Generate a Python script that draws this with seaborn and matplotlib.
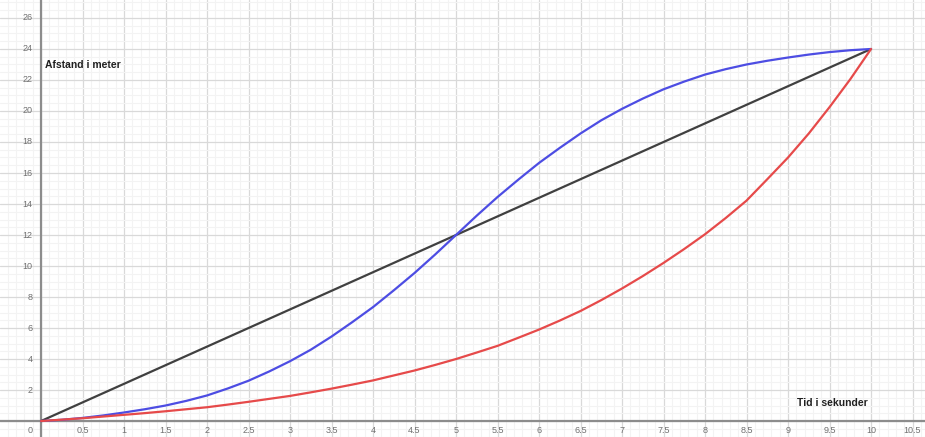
import numpy as np
import pandas as pd
import seaborn as sns
import matplotlib.pyplot as plt
from matplotlib.ticker import MultipleLocator

# tid i sekunder (aflæst hvert kvarte sekund)
t = [0, 0.25, 0.5, 0.75, 1, 1.25, 1.5, 1.75, 2, 2.25, 2.5, 2.75, 3, 3.25,
     3.5, 3.75, 4, 4.25, 4.5, 4.75, 5, 5.25, 5.5, 5.75, 6, 6.25, 6.5, 6.75,
     7, 7.25, 7.5, 7.75, 8, 8.25, 8.5, 8.75, 9, 9.25, 9.5, 9.75, 10]
blaa = [0, 0.08, 0.2, 0.36, 0.55, 0.76, 1.0, 1.3, 1.65, 2.1, 2.6, 3.2,
        3.86, 4.6, 5.45, 6.38, 7.35, 8.43, 9.55, 10.75, 12, 13.25, 14.45,
        15.57, 16.65, 17.62, 18.55, 19.4, 20.14, 20.8, 21.4, 21.9, 22.35,
        22.7, 23.0, 23.24, 23.45, 23.64, 23.8, 23.92, 24]
roed = [0, 0.09, 0.18, 0.29, 0.4, 0.51, 0.63, 0.76, 0.89, 1.06, 1.24, 1.43,
        1.62, 1.85, 2.09, 2.35, 2.62, 2.94, 3.26, 3.62, 4, 4.42, 4.85, 5.37,
        5.9, 6.48, 7.1, 7.8, 8.55, 9.35, 10.2, 11.1, 12.05, 13.1, 14.22, 15.6,
        17.0, 18.55, 20.25, 22.05, 24]
sort_t = [0, 10]
sort_s = [0, 24]

x_ticks = [0.5, 1, 1.5, 2, 2.5, 3, 3.5, 4, 4.5, 5, 5.5, 6, 6.5, 7, 7.5,
           8, 8.5, 9, 9.5, 10, 10.5]
y_ticks = [2, 4, 6, 8, 10, 12, 14, 16, 18, 20, 22, 24, 26]

df = pd.concat([
    pd.DataFrame({"t": sort_t, "s": sort_s, "graf": "sort"}),
    pd.DataFrame({"t": t, "s": blaa, "graf": "blaa"}),
    pd.DataFrame({"t": t, "s": roed, "graf": "roed"}),
])

sns.set_style("white")
plt.rcParams['font.family'] = ['Liberation Sans', 'DejaVu Sans']

fig = plt.figure(figsize=(9.25, 4.37), dpi=100)
ax = fig.add_axes([0, 0, 1, 1])
ax.set_xlim(-0.494, 10.65)
ax.set_ylim(-1.03, 27.16)

# gitter
ax.xaxis.set_major_locator(MultipleLocator(0.5))
ax.xaxis.set_minor_locator(MultipleLocator(0.1))
ax.yaxis.set_major_locator(MultipleLocator(2))
ax.yaxis.set_minor_locator(MultipleLocator(0.5))
ax.grid(which="major", color="#d9d9d9", lw=0.9)
ax.grid(which="minor", color="#f3f3f3", lw=0.8)
ax.set_axisbelow(True)
ax.tick_params(which="both", length=0, labelbottom=False, labelleft=False)
for sp in ax.spines.values():
    sp.set_visible(False)

ax.axhline(0, color="#8c8c8c", lw=1.6, zorder=2)
ax.axvline(0, color="#8c8c8c", lw=1.6, zorder=2)

sns.lineplot(data=df, x="t", y="s", hue="graf", sort=False,
             palette={"sort": "#404040", "blaa": "#4d4de3", "roed": "#e64a4a"},
             lw=1.6, legend=False, ax=ax, zorder=3)
ax.set_xlabel("")
ax.set_ylabel("")

for v in x_ticks:
    ax.text(v, -0.62, f"{v:g}", ha="center", va="center", fontsize=6.5, color="#707070")
ax.text(-0.1, -0.62, "0", ha="right", va="center", fontsize=6.5, color="#707070")
for v in y_ticks:
    ax.text(-0.1, v, f"{v:g}", ha="right", va="center", fontsize=6.5, color="#707070")

ax.text(0.05, 22.97, "Afstand i meter", ha="left", va="center", fontsize=7.5,
        color="#202020", fontweight="bold")
ax.text(9.11, 1.14, "Tid i sekunder", ha="left", va="center", fontsize=7.5,
        color="#202020", fontweight="bold")

fig.savefig("out.png", dpi=100)
